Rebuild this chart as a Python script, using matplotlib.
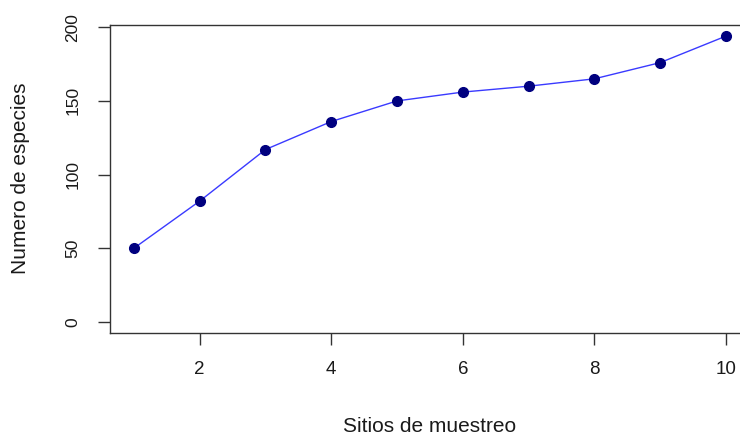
"""
Curva de acumulación de especies por sitio de muestreo (estilo R base plot).
"""

import matplotlib

matplotlib.use("Agg")
import matplotlib.pyplot as plt

plt.rcParams["font.family"] = ["Liberation Sans", "DejaVu Sans"]

sitios = [1, 2, 3, 4, 5, 6, 7, 8, 9, 10]
especies = [50, 82, 117, 136, 150, 156, 160, 165, 176, 194]
x_ticks = [2, 4, 6, 8, 10]
y_ticks = [0, 50, 100, 150, 200]

fig = plt.figure(figsize=(7.4, 4.36), dpi=100)
# R pads the data range by 4% on each side; the right edge runs past the image
ax = fig.add_axes([0.149, 0.2356, 0.864, 0.7078])

ax.plot(sitios, especies, color="#3a3aff", lw=1.0, zorder=2)
ax.plot(sitios, especies, "o", color="#00007f", ms=7, zorder=3)

span_x = max(sitios) - min(sitios)
ax.set_xlim(min(sitios) - 0.04 * span_x, max(sitios) + 0.04 * span_x)
span_y = max(especies) - 0
ax.set_ylim(0 - 0.04 * span_y, max(especies) + 0.04 * span_y)

ax.set_xticks(x_ticks)
ax.set_yticks(y_ticks)
ax.set_yticklabels([str(v) for v in y_ticks], rotation=90, va="center")

ax.tick_params(axis="both", direction="out", length=8.5, width=1.0,
               color="#333333", labelcolor="#1a1a1a")
ax.tick_params(axis="x", pad=11.5, labelsize=13.5)
ax.tick_params(axis="y", pad=13, labelsize=12.5)

for side in ax.spines.values():
    side.set_color("#333333")
    side.set_linewidth(1.0)

fig.text(0.58, 0.0099, "Sitios de muestreo", ha="center", va="baseline",
         fontsize=15, color="#1a1a1a")
fig.text(0.028, 0.5906, "Numero de especies", ha="center", va="center",
         rotation=90, fontsize=15, color="#1a1a1a")

fig.savefig("out.png", dpi=100)
